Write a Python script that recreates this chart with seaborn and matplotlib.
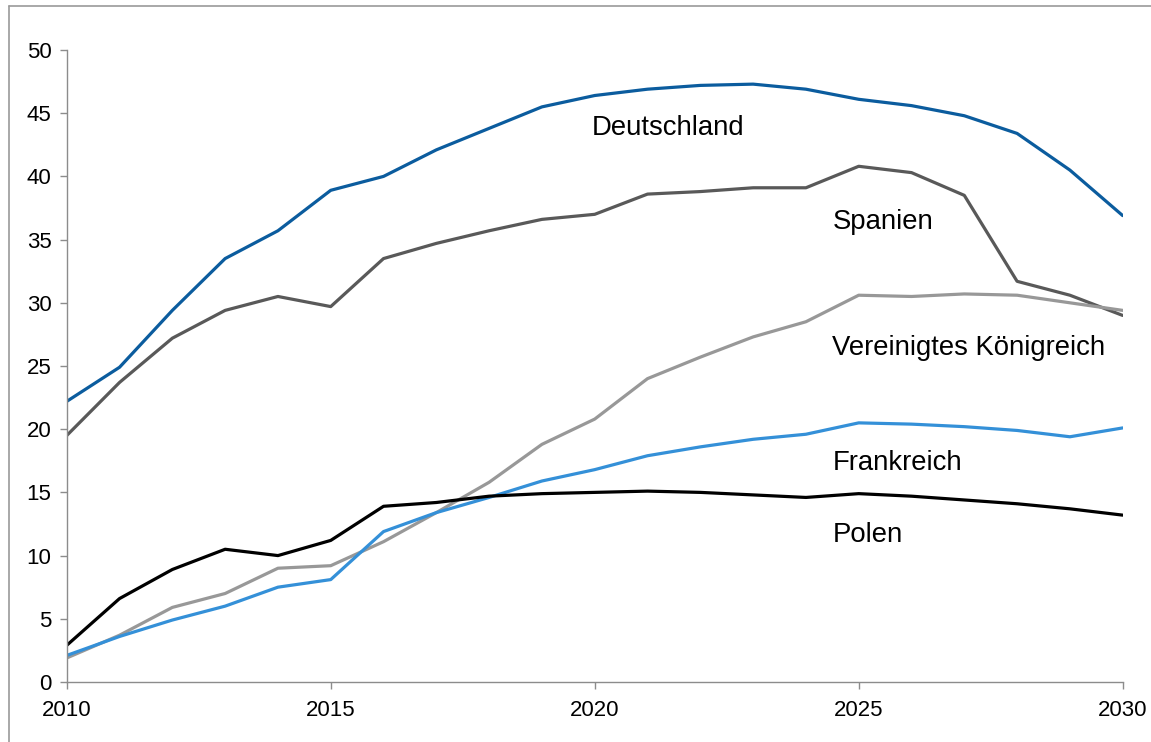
import numpy as np
import pandas as pd
import matplotlib
matplotlib.use("Agg")
import matplotlib.pyplot as plt
from matplotlib.lines import Line2D
import seaborn as sns

years = list(range(2010, 2031))
deutschland = [22.2, 24.9, 29.4, 33.5, 35.7, 38.9, 40.0, 42.1, 43.8, 45.5, 46.4,
               46.9, 47.2, 47.3, 46.9, 46.1, 45.6, 44.8, 43.4, 40.5, 36.9]
spanien = [19.5, 23.7, 27.2, 29.4, 30.5, 29.7, 33.5, 34.7, 35.7, 36.6, 37.0,
           38.6, 38.8, 39.1, 39.1, 40.8, 40.3, 38.5, 31.7, 30.6, 29.0]
vk = [1.9, 3.7, 5.9, 7.0, 9.0, 9.2, 11.1, 13.4, 15.8, 18.8, 20.8,
      24.0, 25.7, 27.3, 28.5, 30.6, 30.5, 30.7, 30.6, 30.0, 29.4]
frankreich = [2.1, 3.6, 4.9, 6.0, 7.5, 8.1, 11.9, 13.4, 14.6, 15.9, 16.8,
              17.9, 18.6, 19.2, 19.6, 20.5, 20.4, 20.2, 19.9, 19.4, 20.1]
polen = [2.9, 6.6, 8.9, 10.5, 10.0, 11.2, 13.9, 14.2, 14.7, 14.9, 15.0,
         15.1, 15.0, 14.8, 14.6, 14.9, 14.7, 14.4, 14.1, 13.7, 13.2]

series_names = ["Deutschland", "Spanien", "Vereinigtes Königreich", "Frankreich", "Polen"]
series_values = [deutschland, spanien, vk, frankreich, polen]
colors = ["#0b5c9e", "#595959", "#989898", "#3490d8", "#000000"]
label_pos = [(2019.95, 43.8), (2024.5, 36.4), (2024.5, 26.4), (2024.5, 17.3), (2024.5, 11.6)]

x_ticks = [2010, 2015, 2020, 2025, 2030]
y_ticks = [0, 5, 10, 15, 20, 25, 30, 35, 40, 45, 50]

rows = []
for name, vals in zip(series_names, series_values):
    for yr, v in zip(years, vals):
        rows.append({"Jahr": yr, "Wert": v, "Land": name})
df = pd.DataFrame(rows)

sns.set_theme(style="white")
plt.rcParams["font.family"] = ["Liberation Sans", "DejaVu Sans"]

fig = plt.figure(figsize=(11.51, 7.42), dpi=100)
ax = fig.add_axes([0.058, 0.0809, 0.9174, 0.8517])

sns.lineplot(data=df, x="Jahr", y="Wert", hue="Land", hue_order=series_names,
             palette=dict(zip(series_names, colors)), linewidth=2.3, legend=False, ax=ax)

ax.set_xlim(2010, 2030)
ax.set_ylim(0, 50)
ax.set_xticks(x_ticks)
ax.set_yticks(y_ticks)
ax.set_xticklabels([str(t) for t in x_ticks])
ax.set_yticklabels([str(t) for t in y_ticks])
ax.set_xlabel("")
ax.set_ylabel("")
for s in ["top", "right"]:
    ax.spines[s].set_visible(False)
for s in ["left", "bottom"]:
    ax.spines[s].set_color("#8c8c8c")
    ax.spines[s].set_linewidth(1.0)
ax.tick_params(axis="both", colors="#8c8c8c", direction="out", length=5, width=1.0,
               labelcolor="black", labelsize=16, bottom=True, left=True)
ax.tick_params(axis="x", pad=8)
ax.tick_params(axis="y", pad=6)
ax.grid(False)

for name, (tx, ty) in zip(series_names, label_pos):
    ax.text(tx, ty, name, ha="left", va="center", fontsize=19.8, color="black")

# outer frame (top and left edges visible)
fig.add_artist(Line2D([9 / 1151, 1.0], [1 - 6 / 742, 1 - 6 / 742], transform=fig.transFigure,
                      color="#9a9a9a", linewidth=1.2))
fig.add_artist(Line2D([9 / 1151, 9 / 1151], [0.0, 1 - 6 / 742], transform=fig.transFigure,
                      color="#9a9a9a", linewidth=1.2))

fig.savefig("out.png", dpi=100, facecolor="white")
